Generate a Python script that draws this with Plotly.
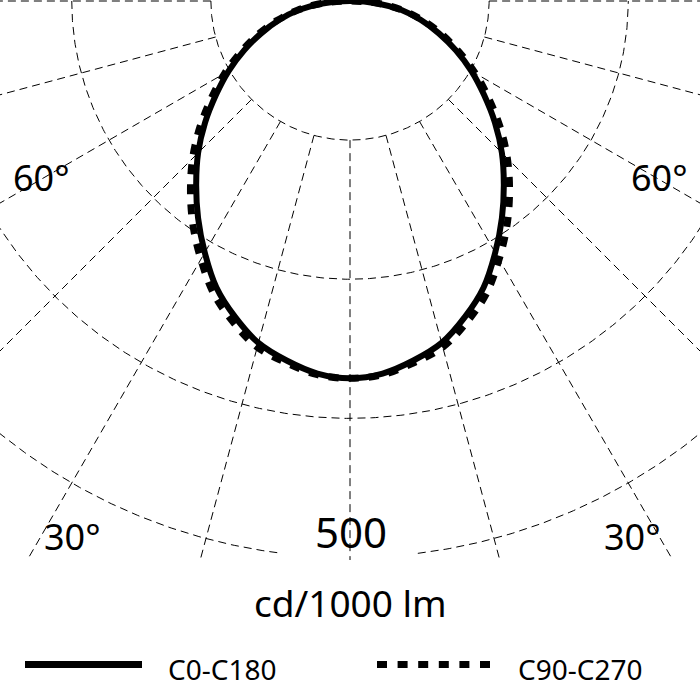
import numpy as np
import plotly.graph_objects as go

# ---- data (cd/1000 lm vs. angle from nadir, degrees) ----
angles = [0, 5, 10, 15, 20, 25, 30, 35, 40, 45, 50, 55, 60, 65, 70, 75, 80, 85, 90]
c0_c180 = [339, 336, 328, 318, 302, 284, 261, 238, 215, 193, 170, 147, 126, 105, 85, 66, 47, 25, 0]
c90_c270 = [339, 337, 330, 322, 307, 290, 268, 246, 223, 200, 176, 152, 130, 108, 88, 68, 48, 26, 0]

grid_radii = [125, 250, 375, 500]
grid_angles = list(range(-90, 91, 15))
angle_label_text = ["60°", "60°", "30°", "30°"]
radius_label_text = "500"
unit_text = "cd/1000 lm"
series_names = ["C0-C180", "C90-C270"]

FONT = "Noto Sans"
PX = 1.113  # pixels per cd/1000 lm


def to_xy(theta_deg, r):
    t = np.radians(np.asarray(theta_deg, dtype=float))
    r = np.asarray(r, dtype=float)
    return r * np.sin(t), -r * np.cos(t)


def mirrored(vals):
    th = [-a for a in angles[::-1]] + angles[1:]
    rv = list(vals[::-1]) + list(vals[1:])
    return th, rv


fig = go.Figure()

grid_line = dict(color="black", width=1, dash="8px,5px")

# circles
for r in grid_radii:
    if r == 500:
        gap = 7.0
        th = np.concatenate([np.linspace(-90, -gap, 200), [np.nan], np.linspace(gap, 90, 200)])
    else:
        th = np.linspace(-90, 90, 361)
    x, y = to_xy(th, np.full_like(th, r))
    fig.add_trace(go.Scatter(x=x, y=y, mode="lines", line=grid_line,
                             hoverinfo="skip", showlegend=False, connectgaps=False))

# radial lines
for a in grid_angles:
    x, y = to_xy([a, a], [grid_radii[0], 1000])
    fig.add_trace(go.Scatter(x=x, y=y, mode="lines", line=grid_line,
                             hoverinfo="skip", showlegend=False))

# curves
th, rv = mirrored(c90_c270)
x, y = to_xy(th, rv)
fig.add_trace(go.Scatter(x=x, y=y, mode="lines", name=series_names[1],
                         line=dict(color="black", width=7, dash="10px,10px", shape="spline"),
                         showlegend=False))
th, rv = mirrored(c0_c180)
x, y = to_xy(th, rv)
fig.add_trace(go.Scatter(x=x, y=y, mode="lines", name=series_names[0],
                         line=dict(color="black", width=6, shape="spline"),
                         showlegend=False))

W = H = 700
cx, cy = 350, 1
fig.update_xaxes(range=[-cx / PX, (W - cx) / PX], visible=False, domain=[0, 1])
fig.update_yaxes(range=[-(560 - cy) / PX, cy / PX], visible=False, domain=[0.2, 1])


def pxp(x, y):
    return x / W, 1 - y / H


annots = []
for txt, (px_, py_) in zip(angle_label_text, [(41, 178), (659, 178), (72, 536), (632, 536)]):
    ax_, ay_ = pxp(px_, py_)
    annots.append(dict(text=txt, x=ax_, y=ay_, xref="paper", yref="paper", showarrow=False,
                       xanchor="center", yanchor="middle", font=dict(family=FONT, size=36, color="black")))
ax_, ay_ = pxp(351, 531)
annots.append(dict(text=radius_label_text, x=ax_, y=ay_, xref="paper", yref="paper", showarrow=False,
                   xanchor="center", yanchor="middle", font=dict(family=FONT, size=42, color="black")))
ax_, ay_ = pxp(350, 602)
annots.append(dict(text=unit_text, x=ax_, y=ay_, xref="paper", yref="paper", showarrow=False,
                   xanchor="center", yanchor="middle", font=dict(family=FONT, size=37, color="black")))
for txt, lx in zip(series_names, [166, 516]):
    ax_, ay_ = pxp(lx, 669)
    annots.append(dict(text=txt, x=ax_, y=ay_, xref="paper", yref="paper", showarrow=False,
                       xanchor="left", yanchor="middle", font=dict(family=FONT, size=28, color="black")))

shapes = [
    dict(type="line", xref="paper", yref="paper", x0=25 / W, x1=142 / W, y0=1 - 664.5 / H, y1=1 - 664.5 / H,
         line=dict(color="black", width=7)),
    dict(type="line", xref="paper", yref="paper", x0=377 / W, x1=490 / W, y0=1 - 664.5 / H, y1=1 - 664.5 / H,
         line=dict(color="black", width=7, dash="10px,10.6px")),
]

fig.update_layout(width=W, height=H, margin=dict(l=0, r=0, t=0, b=0),
                  paper_bgcolor="white", plot_bgcolor="white",
                  annotations=annots, shapes=shapes, showlegend=False)

fig.write_html("out.html", config={"displayModeBar": False},
               post_script="document.body.style.margin='0';")
